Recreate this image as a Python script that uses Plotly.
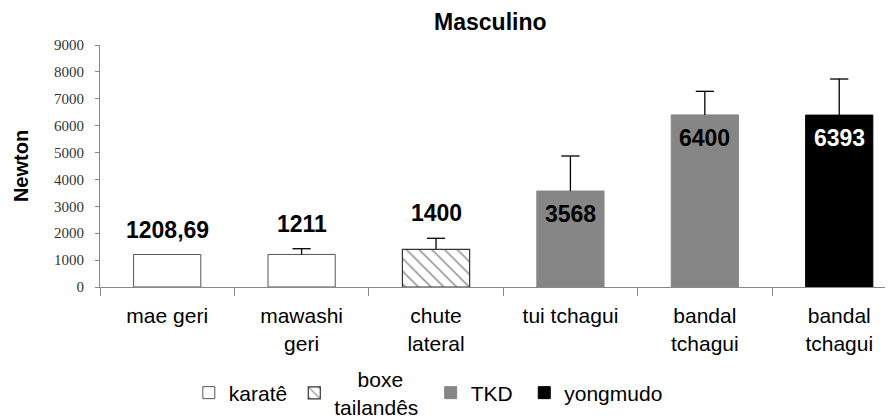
import plotly.graph_objects as go

# ---- data ----
categories = ["mae geri", "mawashi geri", "chute lateral", "tui tchagui", "bandal tchagui", "bandal tchagui"]
tick_labels = ["mae geri", "mawashi<br>geri", "chute<br>lateral", "tui tchagui", "bandal<br>tchagui", "bandal<br>tchagui"]
groups = ["karatê", "karatê", "boxe tailandês", "TKD", "TKD", "yongmudo"]
values = [1208.69, 1211, 1400, 3568, 6400, 6393]
errors = [None, 213, 411, 1304, 877, 1342]   # mae geri: no error bar shown
label_inside = [False, False, False, True, True, True]
y_ticks = [0, 1000, 2000, 3000, 4000, 5000, 6000, 7000, 8000, 9000]

group_order = ["karatê", "boxe tailandês", "TKD", "yongmudo"]
legend_names = {"karatê": "karatê",
                "boxe tailandês": "&nbsp;&nbsp;&nbsp;&nbsp;boxe<br>tailandês",
                "TKD": "TKD", "yongmudo": "yongmudo"}
legend_ids = {"karatê": "legend", "boxe tailandês": "legend2", "TKD": "legend3", "yongmudo": "legend4"}
legend_x = {"karatê": 0.112, "boxe tailandês": 0.245, "TKD": 0.417, "yongmudo": 0.535}
styles = {
    "karatê": dict(color="white", line=dict(color="#555555", width=1)),
    "boxe tailandês": dict(color="white", line=dict(color="#333333", width=1.2),
                          pattern=dict(shape="\\", fgcolor="#333333", size=9, solidity=0.18)),
    "TKD": dict(color="#868686", line=dict(color="#868686", width=1)),
    "yongmudo": dict(color="black", line=dict(color="black", width=1)),
}
label_colors = {"karatê": "black", "boxe tailandês": "black", "TKD": "black", "yongmudo": "white"}

FONT = "Arial, Liberation Sans"

fig = go.Figure()
idx_all = list(range(len(values)))
for g in group_order:
    idx = [i for i in idx_all if groups[i] == g]
    fig.add_trace(go.Bar(
        x=idx,
        y=[values[i] for i in idx],
        name=legend_names[g],
        legend=legend_ids[g],
        marker=styles[g],
        width=0.5,
        hoverinfo="skip",
    ))

# upward-only error bars: stem via error_y (no caps), cap via a line marker at the top
err_idx = [i for i in idx_all if errors[i] is not None]
fig.add_trace(go.Scatter(
    x=err_idx,
    y=[values[i] + errors[i] for i in err_idx],
    mode="markers",
    marker=dict(symbol="line-ew", size=13, color="black", line=dict(color="black", width=1.3)),
    error_y=dict(type="data", array=[0 for _ in err_idx], arrayminus=[errors[i] for i in err_idx],
                 symmetric=False, color="black", thickness=1.3, width=0, visible=True),
    showlegend=False,
    hoverinfo="skip",
))

def fmt(v):
    if abs(v - round(v)) < 1e-9:
        return str(int(round(v)))
    return f"{v:.2f}".replace(".", ",")

for i in idx_all:
    if label_inside[i]:
        fig.add_annotation(x=i, y=values[i], text=f"<b>{fmt(values[i])}</b>", showarrow=False,
                           yanchor="middle", yshift=-23,
                           font=dict(family=FONT, size=23, color=label_colors[groups[i]]))
    else:
        top = values[i] + (errors[i] or 0)
        fig.add_annotation(x=i, y=top, text=f"<b>{fmt(values[i])}</b>", showarrow=False,
                           yanchor="middle", yshift=25,
                           font=dict(family=FONT, size=23, color="black"))

legend_common = dict(orientation="h", xanchor="left", y=-0.438, yanchor="middle",
                     font=dict(family=FONT, size=21, color="black"),
                     bgcolor="rgba(0,0,0,0)", valign="middle")

# page body has an 8px default margin: figure is sized/offset to fill the 893x419 window
fig.update_layout(
    width=885, height=411,
    margin=dict(l=92, r=0, t=37, b=132, autoexpand=False),
    plot_bgcolor="white", paper_bgcolor="white",
    barmode="overlay",
    showlegend=True,
    title=dict(text="<b>Masculino</b>", x=0.545, xanchor="center", y=0.966, yanchor="middle",
               font=dict(family=FONT, size=23, color="black")),
    legend=dict(x=legend_x["karatê"], **legend_common),
    legend2=dict(x=legend_x["boxe tailandês"], **legend_common),
    legend3=dict(x=legend_x["TKD"], **legend_common),
    legend4=dict(x=legend_x["yongmudo"], **legend_common),
    xaxis=dict(range=[-0.5, 5.4], tickmode="array", tickvals=idx_all, ticktext=tick_labels,
               ticks="", showline=True, linecolor="#888888", linewidth=1, showgrid=False,
               zeroline=False, fixedrange=True, automargin=False, ticklabelstandoff=10,
               tickfont=dict(family=FONT, size=21, color="black"),
               minor=dict(tick0=-0.5, dtick=1, ticks="outside", ticklen=8, tickcolor="#888888",
                          showgrid=False)),
    yaxis=dict(range=[0, 9000], tickmode="array", tickvals=y_ticks, ticks="outside", ticklen=4,
               tickcolor="#888888", showline=True, linecolor="#888888", linewidth=1,
               showgrid=False, zeroline=False, automargin=False, ticklabelstandoff=8,
               tickfont=dict(family="Liberation Serif, Times New Roman", size=15, color="#333333"),
               title=dict(text="<b>Newton</b>", standoff=20,
                          font=dict(family=FONT, size=20, color="black"))),
)

fig.write_html("out.html")
